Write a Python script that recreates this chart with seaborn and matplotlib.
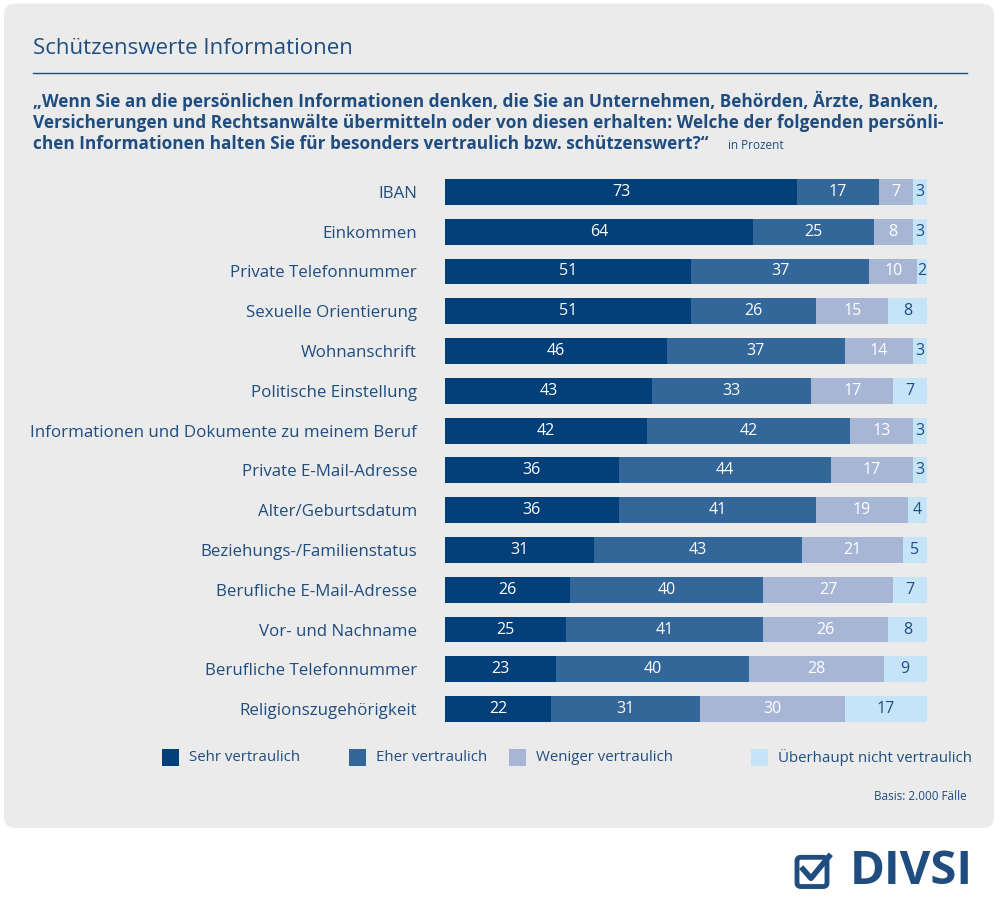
import matplotlib
matplotlib.use("Agg")
import matplotlib.pyplot as plt
import seaborn as sns
import pandas as pd
import numpy as np
from matplotlib.patches import FancyBboxPatch, Rectangle

categories = ["IBAN", "Einkommen", "Private Telefonnummer", "Sexuelle Orientierung",
              "Wohnanschrift", "Politische Einstellung",
              "Informationen und Dokumente zu meinem Beruf", "Private E-Mail-Adresse",
              "Alter/Geburtsdatum", "Beziehungs-/Familienstatus", "Berufliche E-Mail-Adresse",
              "Vor- und Nachname", "Berufliche Telefonnummer", "Religionszugehörigkeit"]
sehr = [73, 64, 51, 51, 46, 43, 42, 36, 36, 31, 26, 25, 23, 22]
eher = [17, 25, 37, 26, 37, 33, 42, 44, 41, 43, 40, 41, 40, 31]
weniger = [7, 8, 10, 15, 14, 17, 13, 17, 19, 21, 27, 26, 28, 30]
nicht = [3, 3, 2, 8, 3, 7, 3, 3, 4, 5, 7, 8, 9, 17]
series = ["Sehr vertraulich", "Eher vertraulich", "Weniger vertraulich",
          "Überhaupt nicht vertraulich"]
question = ["„Wenn Sie an die persönlichen Informationen denken, die Sie an Unternehmen, Behörden, Ärzte, Banken,",
            "Versicherungen und Rechtsanwälte übermitteln oder von diesen erhalten: Welche der folgenden persönli-",
            "chen Informationen halten Sie für besonders vertraulich bzw. schützenswert?“"]
colors = ["#033f78", "#336699", "#a8b6d6", "#c5e4f8"]
text_colors = ["white", "white", "white", "#1f4d80"]
navy = "#1f4d80"

plt.rcParams["font.family"] = ["Open Sans", "DejaVu Sans"]

fig = plt.figure(figsize=(10, 9.13), dpi=100)
fig.patch.set_facecolor("white")
bg = FancyBboxPatch((0.004, 0.093), 0.99, 0.903,
                    boxstyle="round,pad=0,rounding_size=0.012",
                    transform=fig.transFigure, facecolor="#ebebeb",
                    edgecolor="none", zorder=-10)
fig.patches.append(bg)

fig.text(0.033, 0.947, "Schützenswerte Informationen", fontsize=16, color=navy, va="center")
fig.add_artist(plt.Line2D([0.033, 0.967], [0.920, 0.920], color=navy, lw=1))
for k, line in enumerate(question):
    fig.text(0.033, 0.889 - k * 0.0235, line, fontsize=12.4, color=navy,
             fontweight="bold", va="center")
fig.text(0.728, 0.841, "in Prozent", fontsize=8.5, color=navy, va="center")

ax = fig.add_axes([0.445, 0.2015, 0.482, 0.6101])
ax.set_facecolor("none")
data = np.array([sehr, eher, weniger, nicht])
cum = data.cumsum(axis=0)
for i in range(3, -1, -1):
    df = pd.DataFrame({"cat": categories, "val": cum[i]})
    sns.barplot(data=df, x="val", y="cat", color=colors[i], saturation=1,
                width=0.65, ax=ax, orient="h")
for i in range(4):
    for j in range(len(categories)):
        center = cum[i][j] - data[i][j] / 2
        ax.text(center, j, str(data[i][j]), ha="center", va="center",
                fontsize=11.5, color=text_colors[i])
ax.set_xlim(0, 100)
ax.set_ylim(len(categories) - 0.5, -0.5)
ax.set_xlabel("")
ax.set_ylabel("")
ax.set_xticks([])
ax.tick_params(axis="y", length=0, pad=20, labelsize=12.2, labelcolor=navy)
for s in ax.spines.values():
    s.set_visible(False)

legend_x = [0.162, 0.349, 0.509, 0.751]
for x, name, c in zip(legend_x, series, colors):
    fig.patches.append(Rectangle((x, 0.161), 0.017, 0.019, transform=fig.transFigure,
                                 facecolor=c, edgecolor="none"))
    fig.text(x + 0.027, 0.170, name, fontsize=10.8, color=navy, va="center")
fig.text(0.967, 0.128, "Basis: 2.000 Fälle", fontsize=8.5, color=navy, ha="right", va="center")

# logo
fig.patches.append(FancyBboxPatch((0.797, 0.029), 0.03, 0.032,
                                  boxstyle="round,pad=0,rounding_size=0.004",
                                  transform=fig.transFigure, facecolor="none",
                                  edgecolor=navy, lw=3.5))
fig.add_artist(plt.Line2D([0.803, 0.811, 0.829], [0.048, 0.038, 0.062], color=navy, lw=4))
fig.text(0.973, 0.045, "DIVSI", fontsize=34, fontweight="bold", color=navy,
         ha="right", va="center")

fig.savefig("out.png", dpi=100)
